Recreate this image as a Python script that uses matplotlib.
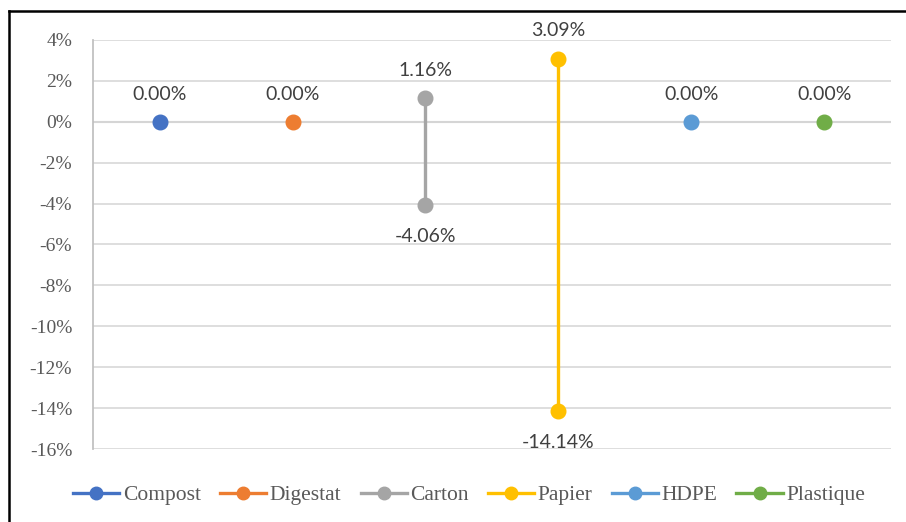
import matplotlib
matplotlib.use("Agg")
import matplotlib.pyplot as plt
from matplotlib.lines import Line2D
from matplotlib.ticker import FuncFormatter

categories = ["Compost", "Digestat", "Carton", "Papier", "HDPE", "Plastique"]
max_values = [0.0, 0.0, 1.16, 3.09, 0.0, 0.0]
min_values = [0.0, 0.0, -4.06, -14.14, 0.0, 0.0]
colors = ["#4472C4", "#ED7D31", "#A5A5A5", "#FFC000", "#5B9BD5", "#70AD47"]
y_ticks = [4, 2, 0, -2, -4, -6, -8, -10, -12, -14, -16]

W, H = 906, 522
fig = plt.figure(figsize=(W / 100, H / 100), dpi=100)
ax = fig.add_axes([93 / W, 1 - 449 / H, (891 - 93) / W, (449 - 40) / H])

label_font = dict(family=["Lato", "DejaVu Sans"], size=14, color="#404040")

for i, (name, hi, lo, c) in enumerate(zip(categories, max_values, min_values, colors)):
    if hi == lo:
        ax.plot([i], [hi], color=c, lw=2.4, marker="o", ms=10.5, zorder=4)
    else:
        ax.plot([i, i], [lo, hi], color=c, lw=2.4, marker="o", ms=10.5,
                solid_capstyle="butt", zorder=4)
    ax.annotate(f"{hi:.2f}%", (i, hi), xytext=(0, 20), textcoords="offset points",
                ha="center", va="center", **label_font)
    if hi != lo:
        ax.annotate(f"{lo:.2f}%", (i, lo), xytext=(0, -23), textcoords="offset points",
                    ha="center", va="center", **label_font)

ax.set_xlim(-0.5, len(categories) - 0.5)
ax.set_ylim(-16, 4)
ax.set_yticks(y_ticks)
ax.yaxis.set_major_formatter(FuncFormatter(lambda v, p: f"{v:.0f}%"))
ax.set_xticks([])
ax.grid(axis="y", color="#D9D9D9", lw=1.25, zorder=0)
ax.axhline(0, color="#BFBFBF", lw=1.5, zorder=1)
for s in ["top", "right", "bottom"]:
    ax.spines[s].set_visible(False)
ax.spines["left"].set_color("#BFBFBF")
ax.spines["left"].set_linewidth(1.25)
ax.tick_params(axis="y", length=0, pad=15, labelsize=14, labelcolor="#595959")
for t in ax.get_yticklabels():
    t.set_family("Liberation Serif")

handles = [Line2D([0], [0], color=c, lw=2.4, marker="o", ms=9) for c in colors]
fig.legend(handles, categories, loc="center", bbox_to_anchor=(469 / W, 1 - 495 / H),
           ncol=6, frameon=False, handlelength=2.15, handletextpad=0.15,
           columnspacing=0.9, prop=dict(family="Liberation Serif", size=15.5),
           labelcolor="#595959")

# outer frame
fig.add_artist(Line2D([8.5 / W, 8.5 / W], [0, 1 - 10.5 / H], transform=fig.transFigure,
                      color="black", lw=1.8))
fig.add_artist(Line2D([8.5 / W, 1], [1 - 10.5 / H, 1 - 10.5 / H], transform=fig.transFigure,
                      color="black", lw=1.8))

fig.savefig("out.png", dpi=100)
